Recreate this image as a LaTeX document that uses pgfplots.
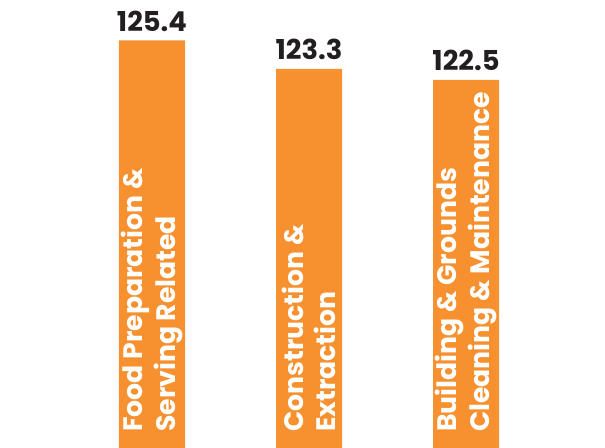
\documentclass[border=0pt]{standalone}
\usepackage{pgfplots}
\pgfplotsset{compat=1.18}
\usepackage{fontspec}
\setmainfont{Poppins}
\definecolor{barorange}{HTML}{F7912F}
\definecolor{labeldark}{HTML}{231F20}
\begin{document}
\begin{tikzpicture}
\begin{axis}[
  at={(0,0)}, anchor=south west,
  scale only axis, width=605bp, height=448bp,
  hide axis,
  xmin=-0.968, xmax=2.885,
  ymin=95.36, ymax=128.38,
  ybar, bar width=66bp,
  nodes near coords,
  point meta=explicit symbolic,
  every node near coord/.append style={font=\bfseries\fontsize{27.5}{27.5}\selectfont, text=labeldark, inner sep=0pt, yshift=9bp, anchor=south},
]
\addplot[fill=barorange, draw=none] table[x=x,y=y,meta=label] {
x y label
0 125.4 125.4
1 123.3 123.3
2 122.5 122.5
};
\node[rotate=90, anchor=west, align=left, inner sep=0pt, text=white, font=\bfseries\fontsize{26.8}{32.5}\selectfont] at ([yshift=16bp]axis cs:0,95.36) {Food Preparation \&\\Serving Related};
\node[rotate=90, anchor=west, align=left, inner sep=0pt, text=white, font=\bfseries\fontsize{26.8}{32.5}\selectfont] at ([yshift=16bp]axis cs:1,95.36) {Construction \&\\Extraction};
\node[rotate=90, anchor=west, align=left, inner sep=0pt, text=white, font=\bfseries\fontsize{26.8}{32.5}\selectfont] at ([yshift=16bp]axis cs:2,95.36) {Building \& Grounds\\Cleaning \& Maintenance};
\end{axis}
\pgfresetboundingbox
\path[use as bounding box] (0,0) rectangle (605bp,448bp);
\end{tikzpicture}
\end{document}
